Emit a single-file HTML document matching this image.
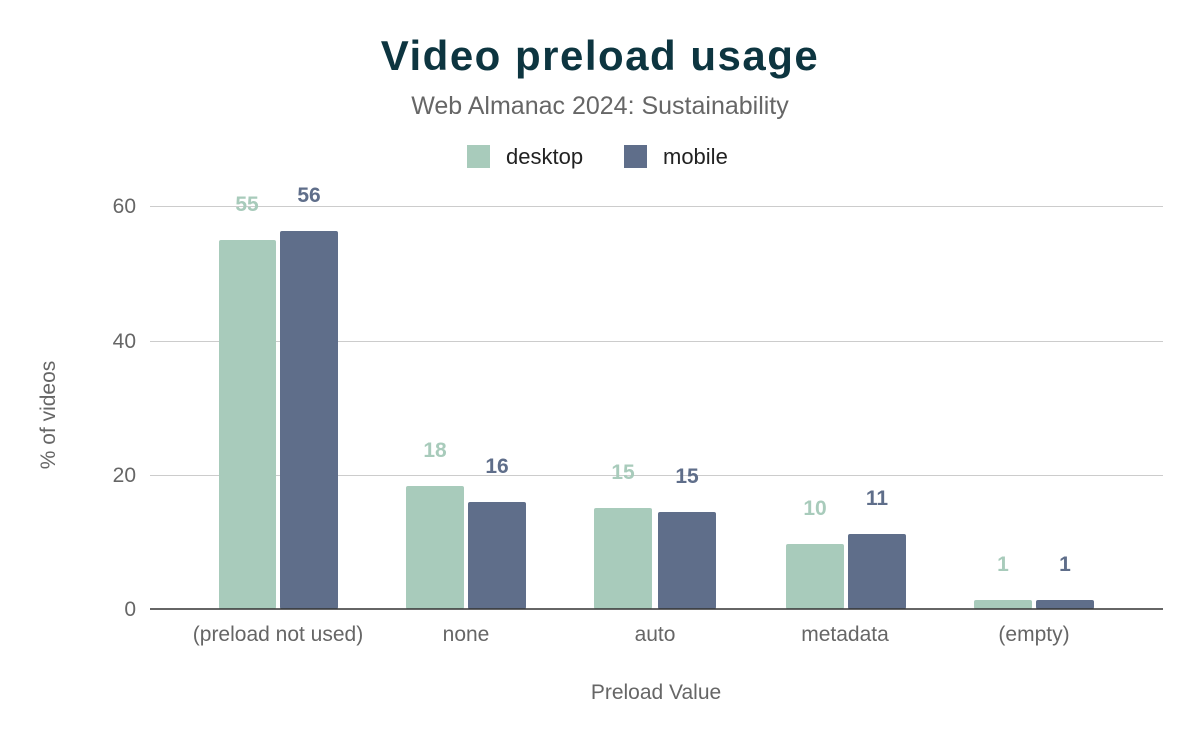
<!DOCTYPE html>
<html><head><meta charset="utf-8"><style>
body{margin:0;background:#fff;}
svg text{font-family:"Liberation Sans",Arial,sans-serif;}
</style></head><body>
<svg width="1200" height="742" xmlns="http://www.w3.org/2000/svg">
<rect width="1200" height="742" fill="#fff"/>
<text x="600" y="70" text-anchor="middle" font-size="42" font-weight="900" fill="#0d3540" style="letter-spacing:1.5px">Video preload usage</text>
<text x="600" y="114" text-anchor="middle" font-size="25" fill="#666">Web Almanac 2024: Sustainability</text>
<rect x="467" y="145" width="23" height="23" fill="#a8cbbb"/>
<text x="506" y="164" font-size="22" fill="#222">desktop</text>
<rect x="624" y="145" width="23" height="23" fill="#5f6e8a"/>
<text x="663" y="164" font-size="22" fill="#222">mobile</text>
<g stroke="#ccc" stroke-width="1">
<line x1="150" y1="206.5" x2="1163" y2="206.5"/>
<line x1="150" y1="341.5" x2="1163" y2="341.5"/>
<line x1="150" y1="475.5" x2="1163" y2="475.5"/>
</g>
<g font-size="21" fill="#666" text-anchor="end">
<text x="136" y="213">60</text><text x="136" y="348">40</text><text x="136" y="482">20</text><text x="136" y="616">0</text>
</g>
<text transform="translate(55,415) rotate(-90)" text-anchor="middle" font-size="21" fill="#666">% of videos</text>
<g fill="#a8cbbb">
<rect x="219" y="240" width="57" height="369" rx="2"/>
<rect x="406" y="486" width="58" height="123" rx="2"/>
<rect x="594" y="508" width="58" height="101" rx="2"/>
<rect x="786" y="544" width="58" height="65" rx="2"/>
<rect x="974" y="600" width="58" height="9" rx="2"/>
</g>
<g fill="#5f6e8a">
<rect x="280" y="231" width="58" height="378" rx="2"/>
<rect x="468" y="502" width="58" height="107" rx="2"/>
<rect x="658" y="512" width="58" height="97" rx="2"/>
<rect x="848" y="534" width="58" height="75" rx="2"/>
<rect x="1036" y="600" width="58" height="9" rx="2"/>
</g>
<line x1="150" y1="609" x2="1163" y2="609" stroke="#333" stroke-width="1.5"/>
<g font-size="21" font-weight="bold" text-anchor="middle" fill="#a8cbbb">
<text x="247" y="211">55</text><text x="435" y="457">18</text><text x="623" y="479">15</text><text x="815" y="515">10</text><text x="1003" y="571">1</text>
</g>
<g font-size="21" font-weight="bold" text-anchor="middle" fill="#5f6e8a">
<text x="309" y="202">56</text><text x="497" y="473">16</text><text x="687" y="483">15</text><text x="877" y="505">11</text><text x="1065" y="571">1</text>
</g>
<g font-size="21" fill="#666" text-anchor="middle">
<text x="278" y="641">(preload not used)</text>
<text x="466" y="641">none</text>
<text x="655" y="641">auto</text>
<text x="845" y="641">metadata</text>
<text x="1034" y="641">(empty)</text>
</g>
<text x="656" y="699" text-anchor="middle" font-size="21" fill="#666">Preload Value</text>
</svg>
</body></html>
